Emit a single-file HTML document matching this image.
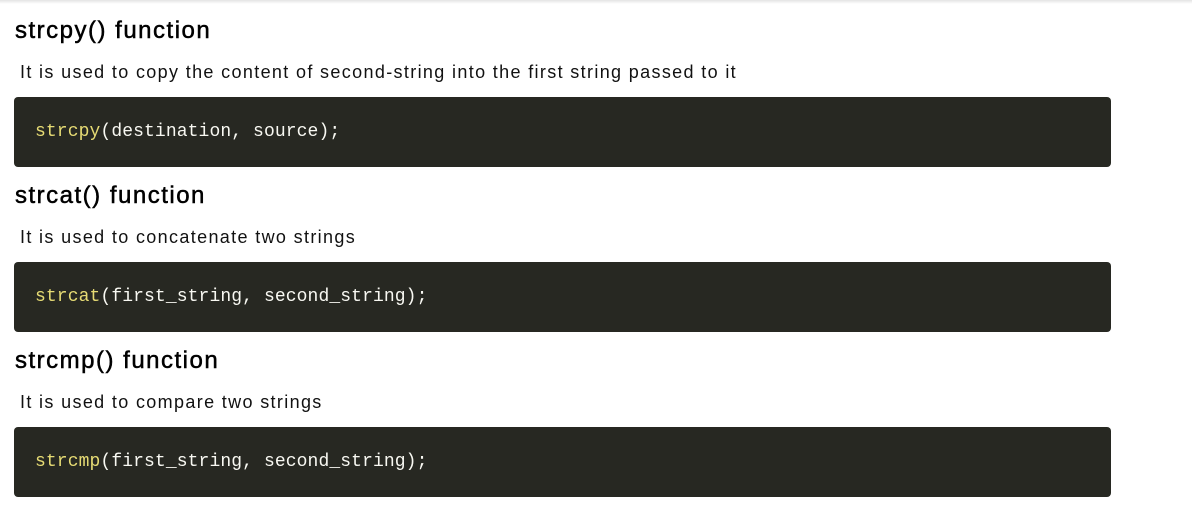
<!DOCTYPE html>
<html><head><style>
body{margin:0;width:1192px;height:510px;background:#fff;position:relative;overflow:hidden;font-family:"Liberation Sans",sans-serif}
.bar{position:absolute;left:0;top:0;width:1192px;height:4px;background:linear-gradient(#e4e4e4,#fff)}
h2{position:absolute;left:15px;margin:0;font-size:24px;font-weight:normal;color:#000;-webkit-text-stroke:0.5px #000;line-height:28px;letter-spacing:1.5px}
p{position:absolute;left:20px;margin:0;font-size:18px;color:#111;line-height:20px;letter-spacing:1.35px}
.code{position:absolute;left:14px;width:1097px;height:70px;background:#272822;border-radius:4px}
.code span{position:absolute;left:21px;top:24px;font-family:"Liberation Mono",monospace;font-size:18px;color:#f8f8f2;line-height:22px;letter-spacing:0.1px}
.y{color:#e6db74}
</style></head><body>
<div class="bar"></div>
<h2 style="top:17px">strcpy() function</h2>
<p style="top:62px">It is used to copy the content of second-string into the first string passed to it</p>
<div class="code" style="top:97px"><span><b class="y" style="font-weight:normal">strcpy</b>(destination, source);</span></div>
<h2 style="top:182px">strcat() function</h2>
<p style="top:227px">It is used to concatenate two strings</p>
<div class="code" style="top:262px"><span><b class="y" style="font-weight:normal">strcat</b>(first_string, second_string);</span></div>
<h2 style="top:347px">strcmp() function</h2>
<p style="top:392px">It is used to compare two strings</p>
<div class="code" style="top:427px"><span><b class="y" style="font-weight:normal">strcmp</b>(first_string, second_string);</span></div>
</body></html>
